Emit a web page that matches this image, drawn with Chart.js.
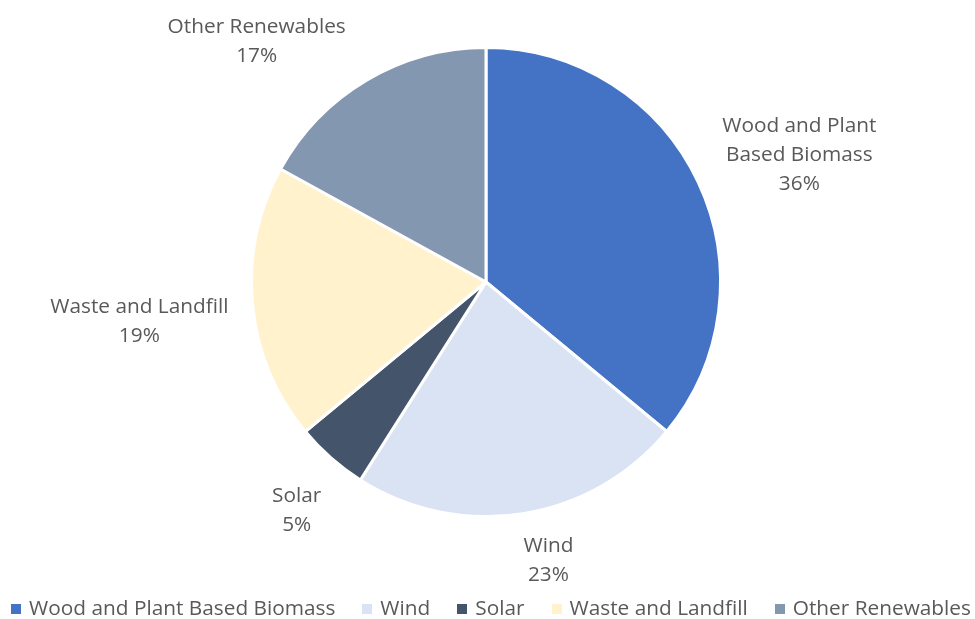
<!DOCTYPE html>
<html>
<head>
<meta charset="utf-8">
<script src="https://cdn.jsdelivr.net/npm/chart.js@4/dist/chart.umd.min.js"></script>
<style>
  html, body { margin: 0; padding: 0; background: #ffffff; }
  #wrap { width: 975px; height: 619px; position: relative; }
</style>
</head>
<body>
<div id="wrap"><canvas id="chart"></canvas></div>
<script>
// Renewable energy sources, share of total (%)
const categories = ['Wood and Plant Based Biomass', 'Wind', 'Solar', 'Waste and Landfill', 'Other Renewables'];
const shares = [36, 23, 5, 19, 17];
// How each category name wraps in its slice label
const labelLines = [['Wood and Plant', 'Based Biomass'], ['Wind'], ['Solar'], ['Waste and Landfill'], ['Other Renewables']];
const sliceColors = ['#4472C4', '#DAE3F3', '#44546A', '#FFF2CC', '#8497B0'];

const TEXT_COLOR = '#595959';
const FONT = '"Open Sans", "DejaVu Sans", sans-serif';
const TEXT_STRETCH = 1.04;   // slightly wide lettering

function drawText(ctx, t, x, y) {
  ctx.save();
  ctx.translate(x, y);
  ctx.scale(TEXT_STRETCH, 1);
  ctx.fillText(t, 0, 0);
  ctx.restore();
}
function textWidth(ctx, t) {
  return ctx.measureText(t).width * TEXT_STRETCH;
}

// Category + percentage labels placed just outside each slice
const outsideLabels = {
  id: 'outsideLabels',
  afterDatasetsDraw(chart, args, opts) {
    const ctx = chart.ctx;
    const meta = chart.getDatasetMeta(0);
    const values = chart.data.datasets[0].data;
    ctx.save();
    ctx.font = opts.fontSize + 'px ' + FONT;
    ctx.fillStyle = TEXT_COLOR;
    ctx.textAlign = 'center';
    ctx.textBaseline = 'middle';
    meta.data.forEach((arc, i) => {
      const p = arc.getProps(['x', 'y', 'startAngle', 'endAngle', 'outerRadius'], true);
      const mid = (p.startAngle + p.endAngle) / 2;
      const cx = Math.cos(mid), cy = Math.sin(mid);
      const lines = labelLines[i].concat([values[i] + '%']);
      const w = Math.max(...lines.map(t => textWidth(ctx, t)));
      const h = lines.length * opts.lineHeight;
      const r = p.outerRadius + opts.gap;
      const nudge = opts.nudges[i] || [0, 0];
      const bx = p.x + cx * r + cx * w / 2 + nudge[0];
      const by = p.y + cy * r + cy * h / 2 + nudge[1];
      lines.forEach((t, k) => {
        drawText(ctx, t, bx, by - h / 2 + opts.lineHeight * (k + 0.5));
      });
    });
    ctx.restore();
  }
};

// Single-row legend along the bottom edge
const bottomLegend = {
  id: 'bottomLegend',
  afterDraw(chart, args, opts) {
    const ctx = chart.ctx;
    const labels = chart.data.labels;
    const colors = chart.data.datasets[0].backgroundColor;
    ctx.save();
    ctx.font = opts.fontSize + 'px ' + FONT;
    ctx.textBaseline = 'middle';
    ctx.textAlign = 'left';
    const widths = labels.map(t => textWidth(ctx, t));
    const itemW = widths.map(w => opts.box + opts.boxGap + w);
    const total = itemW.reduce((a, b) => a + b, 0) + opts.itemGap * (labels.length - 1);
    let x = opts.centerX - total / 2;
    labels.forEach((t, i) => {
      ctx.fillStyle = colors[i];
      ctx.fillRect(Math.round(x), Math.round(opts.y - opts.box / 2), opts.box, opts.box);
      ctx.fillStyle = TEXT_COLOR;
      drawText(ctx, t, x + opts.box + opts.boxGap, opts.y);
      x += itemW[i] + opts.itemGap;
    });
    ctx.restore();
  }
};

new Chart(document.getElementById('chart'), {
  type: 'pie',
  data: {
    labels: categories,
    datasets: [{
      data: shares,
      backgroundColor: sliceColors,
      borderColor: '#ffffff',
      borderWidth: 3
    }]
  },
  options: {
    responsive: true,
    maintainAspectRatio: false,
    animation: false,
    layout: { padding: { top: 46, bottom: 101, left: 0, right: 3 } },
    plugins: {
      legend: { display: false },
      tooltip: { enabled: false },
      outsideLabels: {
        fontSize: 20,
        lineHeight: 29,
        gap: 12,
        nudges: [[20.5, -3], [20, 7], [-10, 22], [-12.5, 14], [-58.5, -3]]
      },
      bottomLegend: {
        fontSize: 20,
        y: 609,
        box: 10,
        boxGap: 8,
        itemGap: 27,
        centerX: 491
      }
    }
  },
  plugins: [outsideLabels, bottomLegend]
});
</script>
</body>
</html>
